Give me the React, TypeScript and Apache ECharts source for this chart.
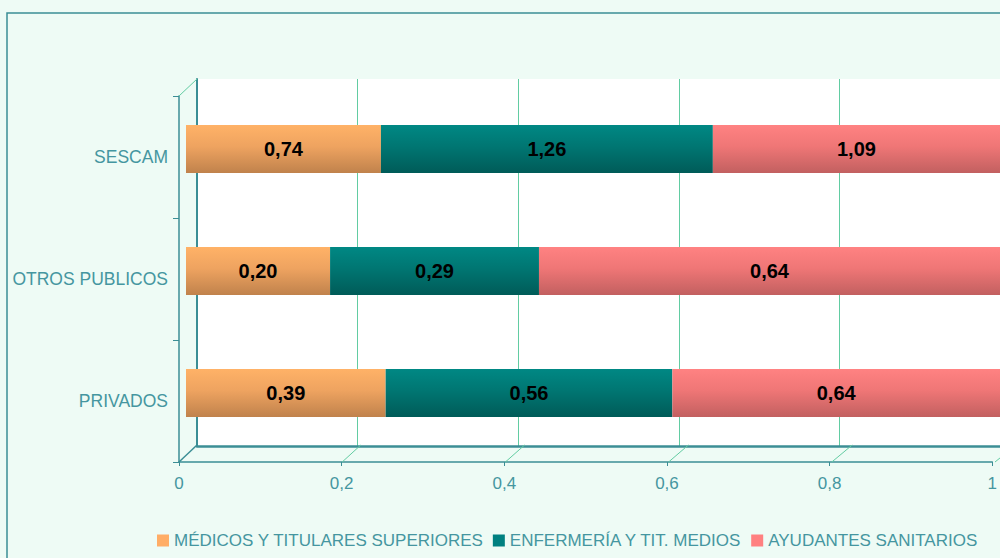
import React, { useEffect, useRef } from "react";
import * as echarts from "echarts";

const categories = ["SESCAM", "OTROS PUBLICOS", "PRIVADOS"];
const seriesNames = ["MÉDICOS Y TITULARES SUPERIORES", "ENFERMERÍA Y TIT. MEDIOS", "AYUDANTES SANITARIOS"];
const medicos = [0.74, 0.2, 0.39];
const enfermeria = [1.26, 0.29, 0.56];
const ayudantes = [1.09, 0.64, 0.64];
const xTicks = [0, 0.2, 0.4, 0.6, 0.8, 1];

const AXIS = "#3B8E95";
const LABEL = "#4596A0";
const GRIDLINE = "#62CCA2";
const BG = "#EEFBF5";

const FRONT = { left: 179, top: 96, width: 816, height: 366 };
const DX = 18;
const DY = -17;

function grad(c0: string, c1: string, c2: string) {
  return new echarts.graphic.LinearGradient(0, 0, 0, 1, [
    { offset: 0, color: c0 },
    { offset: 0.45, color: c1 },
    { offset: 1, color: c2 },
  ]);
}

export default function App() {
  const ref = useRef<HTMLDivElement>(null);
  useEffect(() => {
    const chart = echarts.init(ref.current!, undefined, { renderer: "svg" });
    const totals = categories.map((_, i) => medicos[i] + enfermeria[i] + ayudantes[i]);
    const raw = [medicos, enfermeria, ayudantes];
    const fills = [
      grad("#FFB267", "#EEA360", "#C0824C"),
      grad("#008884", "#007672", "#005B58"),
      grad("#FF8282", "#EF7676", "#C26060"),
    ];
    const solid = ["#FFAD66", "#008080", "#FF8080"];

    const back = { left: FRONT.left + DX, top: FRONT.top + DY, width: FRONT.width + 3, height: FRONT.height + 1 };
    const bars = { left: FRONT.left + 7, top: FRONT.top - 8, width: FRONT.width, height: FRONT.height };

    const diag: any[] = [];
    const fb = FRONT.top + FRONT.height;
    xTicks.forEach((v, i) => {
      const fx = FRONT.left + v * FRONT.width;
      const bx = back.left + v * back.width;
      diag.push({
        type: "line",
        shape: { x1: fx, y1: fb, x2: bx, y2: fb + DY },
        style: { stroke: i === 0 ? AXIS : GRIDLINE, lineWidth: i === 0 ? 1.5 : 1 },
        z: 1,
      });
    });
    diag.push({
      type: "line",
      shape: { x1: FRONT.left, y1: FRONT.top, x2: FRONT.left + DX, y2: FRONT.top + DY },
      style: { stroke: GRIDLINE, lineWidth: 1 },
      z: 1,
    });
    diag.push({
      type: "polyline",
      shape: { points: [[7, 558], [7, 13], [1000, 13]] },
      style: { stroke: AXIS, lineWidth: 1.5, fill: null },
      z: 1,
    });

    chart.setOption({
      animation: false,
      backgroundColor: BG,
      graphic: diag,
      legend: {
        left: 152,
        top: 527,
        itemWidth: 12,
        itemHeight: 12,
        itemGap: 9,
        icon: "rect",
        textStyle: { color: LABEL, fontSize: 17, fontFamily: "Liberation Sans, Arial, sans-serif" },
        data: seriesNames.map((n, i) => ({ name: n, itemStyle: { color: solid[i] } })),
      },
      grid: [
        { ...FRONT, show: false },
        { ...back, show: true, backgroundColor: "#ffffff", borderWidth: 0, z: 0 },
        { ...bars, show: false },
      ],
      xAxis: [
        {
          gridIndex: 0,
          type: "value",
          min: 0,
          max: 1,
          interval: 0.2,
          axisLine: { show: true, lineStyle: { color: AXIS, width: 1.5 } },
          axisTick: { show: true, length: 4, lineStyle: { color: AXIS } },
          splitLine: { show: false },
          axisLabel: {
            color: LABEL,
            fontSize: 17,
            margin: 13,
            fontFamily: "Liberation Sans, Arial, sans-serif",
            formatter: (v: number) => String(v).replace(".", ","),
          },
        },
        {
          gridIndex: 1,
          type: "value",
          min: 0,
          max: 1,
          interval: 0.2,
          axisLine: { show: true, lineStyle: { color: AXIS, width: 2.5 } },
          axisTick: { show: false },
          axisLabel: { show: false },
          splitLine: { show: true, lineStyle: { color: GRIDLINE, width: 1 } },
        },
        {
          gridIndex: 2,
          type: "value",
          min: 0,
          max: 1,
          show: false,
          splitLine: { show: false },
        },
      ],
      yAxis: [
        {
          gridIndex: 0,
          type: "category",
          inverse: true,
          data: categories,
          axisLine: { show: true, lineStyle: { color: AXIS, width: 1.5 } },
          axisTick: { show: true, length: 6, lineStyle: { color: AXIS } },
          axisLabel: {
            color: LABEL,
            fontSize: 17.5,
            margin: 11,
            fontFamily: "Liberation Sans, Arial, sans-serif",
          },
        },
        {
          gridIndex: 1,
          type: "category",
          inverse: true,
          data: categories,
          axisLine: { show: true, lineStyle: { color: AXIS, width: 2 } },
          axisTick: { show: false },
          axisLabel: { show: false },
          splitLine: { show: false },
        },
        {
          gridIndex: 2,
          type: "category",
          inverse: true,
          data: categories,
          show: false,
        },
      ],
      series: raw.map((arr, si) => ({
        name: seriesNames[si],
        type: "bar",
        stack: "total",
        xAxisIndex: 2,
        yAxisIndex: 2,
        barWidth: 48,
        z: 5,
        itemStyle: { color: fills[si] },
        label: {
          show: true,
          position: "inside",
          color: "#000",
          fontWeight: "bold",
          fontSize: 20,
          fontFamily: "Liberation Sans, Arial, sans-serif",
          formatter: (p: any) => p.data.raw.toFixed(2).replace(".", ","),
        },
        data: arr.map((v, i) => ({ value: v / totals[i], raw: v })),
      })),
    });
    return () => chart.dispose();
  }, []);
  return (
    <div
      ref={ref}
      style={{ position: "absolute", left: 0, top: 0, width: 1000, height: 558 }}
    />
  );
}
